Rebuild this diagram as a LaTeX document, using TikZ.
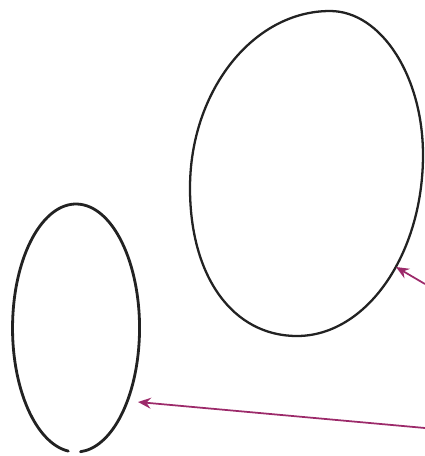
\documentclass[tikz,border=0pt]{standalone}
\usepackage{tikz}
\usetikzlibrary{arrows.meta}
\definecolor{Ink}{HTML}{222222}
\definecolor{Plum}{HTML}{9C2A6A}

\begin{document}
\begin{tikzpicture}[x=0.2mm,y=-0.2mm,
      outline/.style={draw=Ink,line width=1.3pt,line join=round,line cap=round},
      pointer/.style={draw=Plum,line width=1pt,-{Stealth[length=2.6mm,width=2.2mm,inset=0.9mm]}}
    ]
      \useasboundingbox (0,0) rectangle (425,456);
      % large egg, leaning right
      \draw[outline] (330,11) .. controls (381,11) and (423,76) .. (423,155)
        .. controls (423,255) and (366,336) .. (297,336)
        .. controls (233,336) and (190,277) .. (190,188)
        .. controls (190,91) and (253,11) .. (330,11);
      % small egg, with the small break at the bottom
      \draw[outline,line width=1.6pt] (68.3,451.1)
        arc[start angle=97,end angle=446,x radius=63.5,y radius=124];
      \coordinate (bigrim) at (396,267);
      \coordinate (smallrim) at (138,402);
      \coordinate (tailA) at (425,284);
      \coordinate (tailB) at (425,428);
      \draw[pointer] (tailA) -- (bigrim);
      \draw[pointer] (tailB) -- (smallrim);
    \end{tikzpicture}
\end{document}
